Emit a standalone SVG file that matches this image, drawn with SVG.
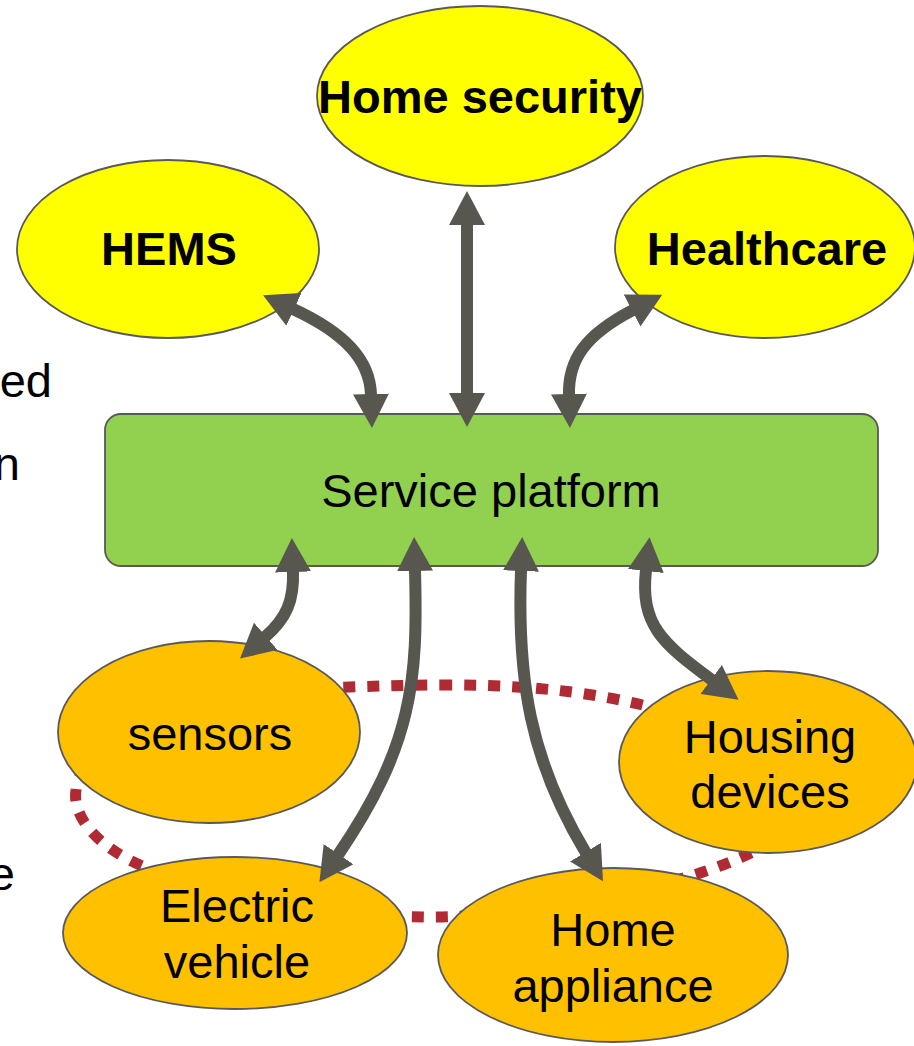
<svg xmlns="http://www.w3.org/2000/svg" width="914" height="1046" viewBox="0 0 914 1046">
  <defs>
    <style>
      text { font-family: "Liberation Sans", Arial, sans-serif; font-size: 47px; fill: #000; text-anchor: middle; }
      .bold { font-weight: bold; }
      .node { stroke: #595959; stroke-width: 1.8; }
      .yellow { fill: #ffff00; }
      .orange { fill: #ffc000; }
      .green { fill: #92d050; }
      .link { fill: none; stroke: #58574f; stroke-width: 12; marker-start: url(#head); marker-end: url(#head); }
      .ring { fill: none; stroke: #b02a33; stroke-width: 11; stroke-dasharray: 12 12; }
    </style>
    <marker id="head" viewBox="0 0 34 36" markerWidth="34" markerHeight="36" refX="1" refY="18" orient="auto-start-reverse" markerUnits="userSpaceOnUse">
      <path d="M0,0 L34,18 L0,36 z" fill="#58574f"/>
    </marker>
  </defs>

  <rect width="914" height="1046" fill="#ffffff"/>

  <!-- partial text cut at the left edge -->
  <g id="side-text">
    <text x="52" y="397" style="text-anchor:end">ed</text>
    <text x="20" y="480" style="text-anchor:end">n</text>
    <text x="15" y="890" style="text-anchor:end">e</text>
  </g>

  <!-- dashed ring linking the home devices -->
  <g id="ring">
    <path class="ring" d="M440,685 C560,684 660,700 740,740 C800,770 800,830 757,850 C720,868 690,877 640,890 C560,905 500,917 430,917 C320,917 200,890 140,865 C95,845 72,815 76,790 C80,740 200,690 350,687 C380,686 410,685 440,685 Z"/>
  </g>

  <g id="home-security">
    <ellipse class="node yellow" cx="480" cy="96" rx="163" ry="90"/>
    <text class="bold" x="480" y="113">Home security</text>
  </g>
  <g id="hems">
    <ellipse class="node yellow" cx="168" cy="249" rx="151" ry="89"/>
    <text class="bold" x="169" y="265">HEMS</text>
  </g>
  <g id="healthcare">
    <ellipse class="node yellow" cx="765" cy="247" rx="150" ry="91"/>
    <text class="bold" x="767" y="265">Healthcare</text>
  </g>

  <g id="service-platform">
    <rect class="node green" x="105" y="414" width="773" height="152" rx="16" ry="16"/>
    <text x="491" y="507">Service platform</text>
  </g>

  <g id="sensors">
    <ellipse class="node orange" cx="209" cy="732" rx="151" ry="91"/>
    <text x="210" y="750">sensors</text>
  </g>
  <g id="housing-devices">
    <ellipse class="node orange" cx="768" cy="762" rx="149" ry="91"/>
    <text x="770" y="753">Housing</text>
    <text x="770" y="808">devices</text>
  </g>
  <g id="electric-vehicle">
    <ellipse class="node orange" cx="235" cy="933" rx="172" ry="76"/>
    <text x="237" y="922">Electric</text>
    <text x="237" y="978">vehicle</text>
  </g>
  <g id="home-appliance">
    <ellipse class="node orange" cx="613" cy="955" rx="175" ry="87"/>
    <text x="613" y="946">Home</text>
    <text x="613" y="1002">appliance</text>
  </g>

  <!-- two-way links to the platform -->
  <g id="connectors">
    <path class="link" d="M293,309 C345,333 370,360 371,395"/>
    <path class="link" d="M467,224 L467,394"/>
    <path class="link" d="M633,310 C585,335 568,360 569,395"/>
    <path class="link" d="M293,571 C294,600 287,618 265,637"/>
    <path class="link" d="M415,570 C418,680 413,745 338,855"/>
    <path class="link" d="M521,570 C517,680 530,760 586,853"/>
    <path class="link" d="M646,570 C640,625 662,643 712,680"/>
  </g>
</svg>
